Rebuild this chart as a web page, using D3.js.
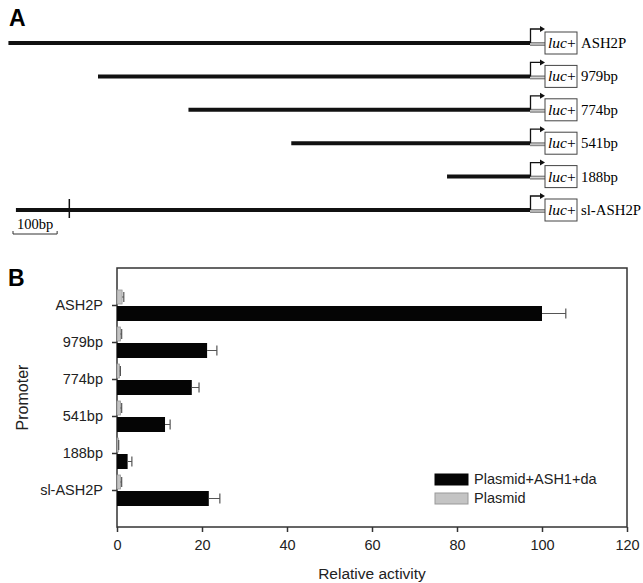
<!DOCTYPE html>
<html lang="en">
<head>
<meta charset="UTF-8">
<title>ASH2P promoter deletion constructs</title>
<script src="https://d3js.org/d3.v7.min.js"></script>
<style>
  body { margin: 0; background: #fff; }
  svg { display: block; }
</style>
</head>
<body>
<script>
// panel A: promoter constructs (length upstream of TSS, bp)
const constructs = ["ASH2P", "979bp", "774bp", "541bp", "188bp", "sl-ASH2P"];
const constructLength = [1182, 979, 774, 541, 188, 1165];
const slMarkAt = 1044;        // position of the marked site in sl-ASH2P
const scaleBarBp = 100;

// panel B: luciferase assay
const promoters = ["ASH2P", "979bp", "774bp", "541bp", "188bp", "sl-ASH2P"];
const induced = [100, 21.2, 17.6, 11.3, 2.5, 21.6];
const inducedErr = [5.6, 2.3, 1.7, 1.2, 1.0, 2.6];
const basal = [1.2, 0.8, 0.6, 0.8, 0.3, 0.8];
const basalErr = [0.4, 0.3, 0.2, 0.3, 0.1, 0.3];
const xTicks = [0, 20, 40, 60, 80, 100, 120];
const legendLabels = ["Plasmid+ASH1+da", "Plasmid"];

const width = 643, height = 583;
const svg = d3.select("body").append("svg")
    .attr("width", width)
    .attr("height", height);

// ---------- panel A ----------
const tss = 530;
const bp = d3.scaleLinear().domain([0, 979]).range([tss, tss - 432]);
const rowY = d3.scalePoint().domain(constructs).range([43, 210]);
const serif = "'Liberation Serif', 'Times New Roman', serif";

svg.append("text")
    .attr("x", 9).attr("y", 26)
    .style("font", "bold 23px 'Liberation Sans', Arial, sans-serif")
    .text("A");

const rows = svg.append("g").selectAll("g")
    .data(constructs.map((c, i) => ({ name: c, len: constructLength[i] })))
    .join("g")
    .attr("transform", d => `translate(0,${rowY(d.name)})`);

rows.append("line")
    .attr("x1", d => bp(d.len)).attr("x2", tss)
    .attr("stroke", "#111").attr("stroke-width", 4);

// short grey link to reporter
rows.append("rect")
    .attr("x", tss).attr("y", -1).attr("width", 15).attr("height", 4)
    .attr("fill", "#8a8a8a");
rows.append("line")
    .attr("x1", tss).attr("x2", tss + 15).attr("y1", 1).attr("y2", 1)
    .attr("stroke", "#ddd").attr("stroke-width", 1);

// transcription start arrow
rows.append("path")
    .attr("d", `M${tss + 0.5},0V-14H${tss + 11}`)
    .attr("fill", "none").attr("stroke", "#111").attr("stroke-width", 1.3);
rows.append("path")
    .attr("d", `M${tss + 15},-14l-5,-3v6z`)
    .attr("fill", "#111");

rows.append("rect")
    .attr("x", 545).attr("y", -11).attr("width", 32).attr("height", 22)
    .attr("fill", "#fff").attr("stroke", "#444").attr("stroke-width", 1);

const luc = rows.append("text")
    .attr("x", 548).attr("y", 5)
    .style("font", "15.5px " + serif);
luc.append("tspan").style("font-style", "italic").text("luc");
luc.append("tspan").text("+");

rows.append("text")
    .attr("x", 581).attr("y", 5)
    .style("font", "14.8px " + serif)
    .text(d => d.name);

// mark on the sl-ASH2P construct
svg.append("line")
    .attr("x1", bp(slMarkAt)).attr("x2", bp(slMarkAt))
    .attr("y1", rowY("sl-ASH2P") - 11).attr("y2", rowY("sl-ASH2P") + 8)
    .attr("stroke", "#111").attr("stroke-width", 1.5);

// scale bar
const sbX0 = 13, sbX1 = sbX0 + (bp(0) - bp(scaleBarBp));
svg.append("text")
    .attr("x", (sbX0 + sbX1) / 2).attr("y", 229)
    .attr("text-anchor", "middle")
    .style("font", "14.5px " + serif)
    .text(scaleBarBp + "bp");
svg.append("path")
    .attr("d", `M${sbX0},231V234H${sbX1}V231`)
    .attr("fill", "none").attr("stroke", "#333").attr("stroke-width", 1);

// ---------- panel B ----------
const plot = { left: 117, right: 627, top: 268, bottom: 527 };
const x = d3.scaleLinear().domain([0, 120]).range([plot.left, plot.right]);
const y = d3.scalePoint().domain(promoters).range([plot.top, plot.bottom]).padding(1);
const barH = 15;
const sans = "'Liberation Sans', Arial, sans-serif";

svg.append("text")
    .attr("x", 8).attr("y", 286)
    .style("font", "bold 23px " + sans)
    .text("B");

svg.append("rect")
    .attr("x", plot.left).attr("y", plot.top)
    .attr("width", plot.right - plot.left).attr("height", plot.bottom - plot.top)
    .attr("fill", "none").attr("stroke", "#333").attr("stroke-width", 1.5);

const bars = promoters.map((p, i) => ({
    p, v: induced[i], e: inducedErr[i], b: basal[i], be: basalErr[i]
}));

const g = svg.append("g");

// basal (plasmid) bars above the tick
g.selectAll(".basal")
    .data(bars).join("rect")
    .attr("class", "basal")
    .attr("x", x(0)).attr("y", d => y(d.p) - barH)
    .attr("width", d => x(d.b) - x(0)).attr("height", barH - 1)
    .attr("fill", "#c4c4c4").attr("stroke", "#999").attr("stroke-width", 0.8);

// induced bars below the tick
g.selectAll(".induced")
    .data(bars).join("rect")
    .attr("class", "induced")
    .attr("x", x(0)).attr("y", d => y(d.p) + 1)
    .attr("width", d => x(d.v) - x(0)).attr("height", barH)
    .attr("fill", "#050505");

// error bars
function errBar(sel, val, err, cy) {
    sel.append("path")
        .attr("d", d => `M${x(val(d))},${cy(d)}H${x(val(d) + err(d))}M${x(val(d) + err(d))},${cy(d) - 5}V${cy(d) + 5}`)
        .attr("fill", "none").attr("stroke", "#555").attr("stroke-width", 1.2);
}
const eg = g.selectAll(".err").data(bars).join("g").attr("class", "err");
errBar(eg, d => d.v, d => d.e, d => y(d.p) + 1 + barH / 2);
errBar(eg, d => d.b, d => d.be, d => y(d.p) - barH / 2 - 0.5);

// axes
const xAxis = svg.append("g")
    .attr("transform", `translate(0,${plot.bottom})`)
    .call(d3.axisBottom(x).tickValues(xTicks).tickSize(5).tickPadding(8));
const yAxis = svg.append("g")
    .attr("transform", `translate(${plot.left},0)`)
    .call(d3.axisLeft(y).tickSize(5).tickPadding(9));
[xAxis, yAxis].forEach(a => {
    a.select(".domain").remove();
    a.selectAll("line").attr("stroke", "#333").attr("stroke-width", 1.5);
    a.selectAll("text").attr("fill", "#222").style("font", "14.5px " + sans);
});

svg.append("text")
    .attr("x", x(60)).attr("y", 579)
    .attr("text-anchor", "middle")
    .style("font", "15.5px " + sans).attr("fill", "#222")
    .text("Relative activity");

svg.append("text")
    .attr("transform", `translate(28,${(plot.top + plot.bottom) / 2}) rotate(-90)`)
    .attr("text-anchor", "middle")
    .style("font", "16px " + sans).attr("fill", "#222")
    .text("Promoter");

// legend
const legend = svg.append("g").selectAll("g")
    .data(legendLabels).join("g")
    .attr("transform", (d, i) => `translate(435,${474 + i * 19})`);
legend.append("rect")
    .attr("width", 33).attr("height", 11)
    .attr("fill", (d, i) => i === 0 ? "#050505" : "#c4c4c4")
    .attr("stroke", (d, i) => i === 0 ? "#050505" : "#999");
legend.append("text")
    .attr("x", 39).attr("y", 10)
    .style("font", "14.5px " + sans).attr("fill", "#222")
    .text(d => d);
</script>
</body>
</html>
